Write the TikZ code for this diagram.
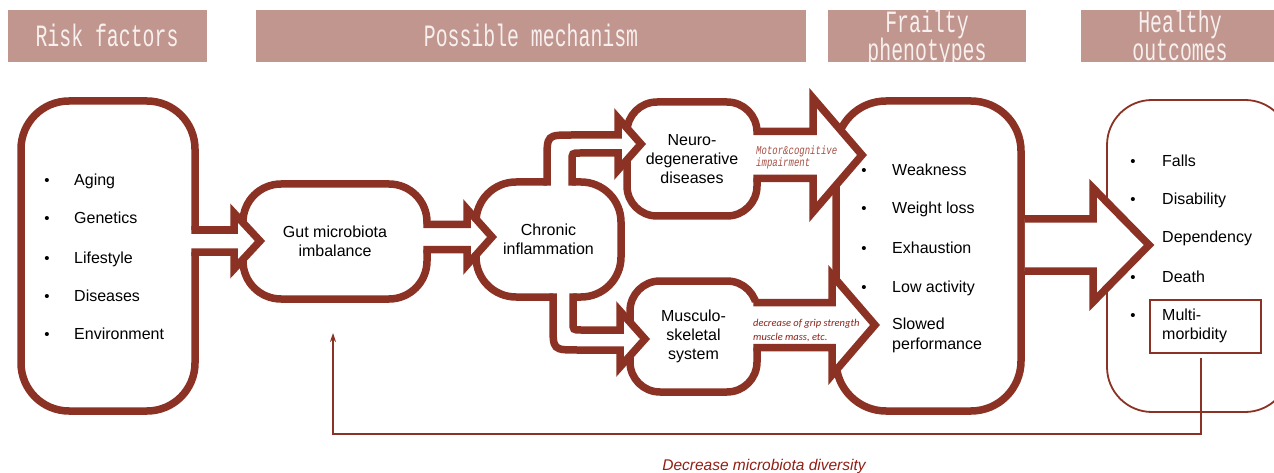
\documentclass[tikz,border=0pt]{standalone}
\usepackage{fontspec}
\setmainfont{Liberation Sans}
\newfontfamily\hdrfont[FakeStretch=0.64]{Liberation Mono}
\newfontfamily\monolbl[FakeStretch=0.75]{Liberation Mono}
\newfontfamily\carlfont{Carlito}
\usetikzlibrary{arrows.meta}
\definecolor{brn}{RGB}{139,50,36}
\definecolor{hdrbg}{RGB}{192,150,143}
\definecolor{hdrtx}{RGB}{247,240,238}
\definecolor{lblred}{RGB}{168,80,68}
\definecolor{lblred2}{RGB}{140,35,25}
\definecolor{decred}{RGB}{145,30,20}
% #1 stroke start x, #2 barb x, #3 tip x, #4 centre y, #5 shaft half height, #6 head half height, #7 fill start x
\newcommand{\blkarrow}[7]{%
  \fill[white] (#7,#4-#5) -- (#2,#4-#5) -- (#2,#4-#6) -- (#3,#4) -- (#2,#4+#6) -- (#2,#4+#5) -- (#7,#4+#5) -- cycle;
  \draw[arl] (#1,#4-#5) -- (#2,#4-#5) -- (#2,#4-#6) -- (#3,#4) -- (#2,#4+#6) -- (#2,#4+#5) -- (#1,#4+#5);}
\begin{document}
\begin{tikzpicture}[x=1pt,y=-1pt,
  hdr/.style={fill=hdrbg, draw=none, inner sep=0pt, anchor=north west},
  hdrtext/.style={text=hdrtx, font=\hdrfont\fontsize{31}{31}\selectfont, inner sep=0pt, anchor=base},
  bx/.style={draw=brn, line width=7.5pt, fill=white, inner sep=0pt, align=center, font=\fontsize{16}{19}\selectfont},
  thinbx/.style={draw=brn, line width=1.8pt, inner sep=0pt},
  itm/.style={anchor=base west, inner sep=0pt, font=\fontsize{16}{19}\selectfont},
  bul/.style={anchor=base, inner sep=0pt, font=\fontsize{15}{16}\selectfont},
  arl/.style={draw=brn, line width=7.5pt, miter limit=10},
  fb/.style={draw=brn, line width=2pt},
  lblmono/.style={anchor=base west, inner sep=0pt, text=lblred, font=\monolbl\itshape\fontsize{12}{12}\selectfont},
  lblcal/.style={anchor=base west, inner sep=0pt, text=lblred2, font=\carlfont\itshape\fontsize{10.5}{12}\selectfont},
]
\useasboundingbox (0,0) rectangle (1274,473);

% headers
\node[hdr, minimum width=199, minimum height=52] (h1) at (8,10) {};
\node[hdr, minimum width=550, minimum height=52] (h2) at (256,10) {};
\node[hdr, minimum width=198, minimum height=52] (h3) at (828,10) {};
\node[hdr, minimum width=200, minimum height=52] (h4) at (1081,10) {};
\node[hdrtext] (t1) at (107,47) {Risk factors};
\node[hdrtext] (t2) at (531,47) {Possible mechanism};
\begin{scope}
  \clip (828,10) rectangle (1026,62);
  \node[hdrtext] (t3a) at (927,33) {Frailty};
  \node[hdrtext] (t3b) at (927,61) {phenotypes};
\end{scope}
\begin{scope}
  \clip (1081,10) rectangle (1281,62);
  \node[hdrtext] (t4a) at (1180,33) {Healthy};
  \node[hdrtext] (t4b) at (1180,61) {outcomes};
\end{scope}

% boxes
\node[bx, minimum width=174, minimum height=310, rounded corners=48] (risk) at (108,256) {};
\node[bx, minimum width=184, minimum height=115, rounded corners=38] (gut) at (335,241.5) {Gut microbiota\\imbalance};
\node[bx, minimum width=145, minimum height=115, rounded corners=40] (chr) at (548.5,239.5) {Chronic\\inflammation};
\node[bx, minimum width=130, minimum height=114, rounded corners=30] (neu) at (692,159) {Neuro-\\degenerative\\diseases};
\node[bx, minimum width=127, minimum height=111, rounded corners=30] (mus) at (693.5,336.5) {Musculo-\\skeletal\\system};
\node[bx, minimum width=185, minimum height=310, rounded corners=50] (fra) at (928.5,256) {};
\node[thinbx, fill=white, minimum width=183, minimum height=312, rounded corners=45] (hea) at (1198.5,256) {};
\node[thinbx, minimum width=111, minimum height=53] (mm) at (1205.5,326.5) {};

% lists
\foreach \t/\y [count=\i] in {Aging/186, Genetics/224, Lifestyle/263, Diseases/301, Environment/339} {
  \node[bul] (rb\i) at (47,\y) {•};
  \node[itm] (ri\i) at (74,\y) {\t};
}
\foreach \t/\y [count=\i] in {Weakness/176, Weight loss/214, Exhaustion/253, Low activity/292} {
  \node[bul] (fb\i) at (864,\y) {•};
  \node[itm] (fi\i) at (892,\y) {\t};
}
\node[itm] (fi5) at (892,329) {Slowed};
\node[itm] (fi6) at (892,349) {performance};
\foreach \y [count=\i] in {167, 205, 282, 320} {
  \node[bul] (hb\i) at (1133,\y) {•};
}
\node[itm] (hi1) at (1162,167) {Falls};
\node[itm] (hi2) at (1162,205) {Disability};
\node[itm] (hi3) at (1162,243) {Dependency};
\node[itm] (hi4) at (1162,282) {Death};
\node[itm] (hi5) at (1162,320) {Multi-};
\node[itm] (hi6) at (1162,339) {morbidity};

% straight block arrows
\blkarrow{191.25}{234}{260}{241}{11}{28}{189.5}
\blkarrow{423.25}{467}{492}{237}{12.5}{28}{421.5}
\blkarrow{753.25}{813}{862}{155}{23.5}{57}{751.5}
\blkarrow{753.25}{832}{875}{325}{22.5}{50}{751.5}
\blkarrow{1024.75}{1093}{1149}{245}{26}{57}{1024.75}

% bent arrow up (chronic -> neuro)
\fill[white] (547,187.5) -- (547,160) .. controls (547,135) .. (572,135) -- (618,135) -- (618,118) -- (641,144) -- (618,170) -- (618,153) -- (580,153) .. controls (572,153) .. (572,161) -- (572,187.5) -- cycle;
\draw[arl] (547,185.75) -- (547,160) .. controls (547,135) .. (572,135) -- (618,135) -- (618,118) -- (641,144) -- (618,170) -- (618,153) -- (580,153) .. controls (572,153) .. (572,161) -- (572,185.75);
% bent arrow down (chronic -> musculo)
\fill[white] (553,291.5) -- (553,325) .. controls (553,350) .. (578,350) -- (620,350) -- (620,367) -- (645,339) -- (620,311) -- (620,330) -- (581,330) .. controls (573,330) .. (573,322) -- (573,291.5) -- cycle;
\draw[arl] (553,293.25) -- (553,325) .. controls (553,350) .. (578,350) -- (620,350) -- (620,367) -- (645,339) -- (620,311) -- (620,330) -- (581,330) .. controls (573,330) .. (573,322) -- (573,293.25);

% arrow labels
\node[lblmono] (mc1) at (756,155) {Motor\&cognitive};
\node[lblmono] (mc2) at (756,166.5) {impairment};
\node[lblcal] (gs1) at (753,326.5) {decrease of grip strength};
\node[lblcal] (gs2) at (753,340.5) {muscle mass, etc.};

% feedback
\coordinate (fbtip) at (333,333);
\draw[fb, -{Stealth[length=9pt,width=6pt]}] (mm.south) ++(-5,4) -- ++(0,76) -| (fbtip);
\node[inner sep=0pt, text=decred, font=\itshape\fontsize{15.5}{18}\selectfont] (dec) at (764,466) {Decrease microbiota diversity};
\end{tikzpicture}
\end{document}
